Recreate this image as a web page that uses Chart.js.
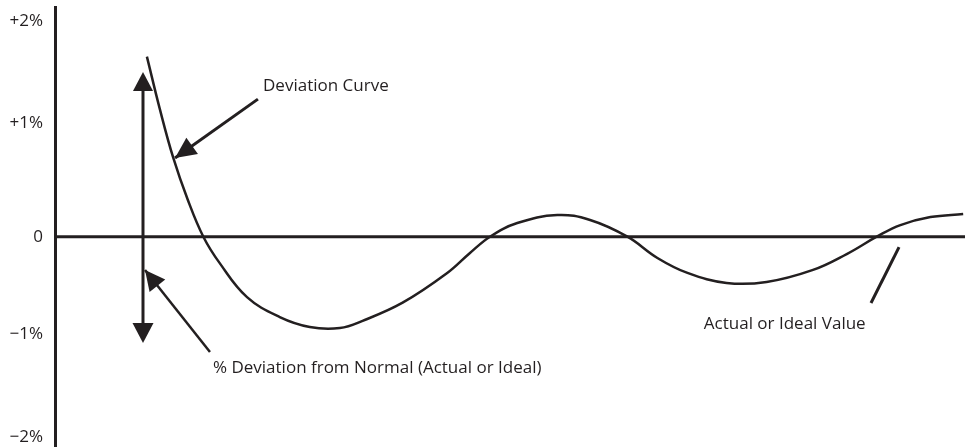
<!DOCTYPE html>
<html>
<head>
<meta charset="utf-8">
<script src="https://cdn.jsdelivr.net/npm/chart.js@4.4.1/dist/chart.umd.min.js"></script>
<style>
    html, body { margin: 0; padding: 0; background: #fff; }
    #wrap { width: 968px; height: 447px; }
</style>
</head>
<body>
<div id="wrap"><canvas id="deviationChart"></canvas></div>
<script>
// ========================================
// Deviation curve data
// ========================================

// time axis, arbitrary units 0..100
const curveTime = [10.1, 11.5, 13.0, 14.6, 16.3, 18.1, 21.1, 24.7, 28.0, 31.3, 33.8, 38.2, 43.1, 45.6, 47.8,
    50.8, 55.2, 58.8, 62.9, 66.2, 69.5, 73.8, 78.2, 83.3, 87.0, 90.3, 92.9, 96.2, 99.8];
// % deviation from normal
const curveDeviation = [1.67, 1.19, 0.73, 0.34, 0, -0.245, -0.56, -0.745, -0.837, -0.846, -0.78, -0.612, -0.337, -0.151, 0,
    0.127, 0.201, 0.155, 0, -0.197, -0.336, -0.429, -0.42, -0.308, -0.161, 0, 0.108, 0.182, 0.21];

// normal (actual or ideal) value line
const normalTime = [0, 100];
const normalValue = [0, 0];

// y tick labels, hand placed in the drawing (bottom to top)
const tickValues = [-1.86, -0.9, 0, 1.05, 2.0];
const tickLabels = ['\u22122%', '\u22121%', '0', '+1%', '+2%'];

const INK = '#231f20';
const FONT = '"Open Sans", "DejaVu Sans", sans-serif';

// ========================================
// Annotation plugin: arrows and labels
// ========================================
const annotations = {
    id: 'annotations',
    afterDatasetsDraw(chart) {
        const { ctx, scales: { x, y } } = chart;
        const px = (t, v) => [x.getPixelForValue(t), y.getPixelForValue(v)];

        const line = (a, b, w) => {
            ctx.beginPath();
            ctx.moveTo(a[0], a[1]);
            ctx.lineTo(b[0], b[1]);
            ctx.lineWidth = w;
            ctx.stroke();
        };

        // arrow head with tip at b, pointing from a
        const head = (a, b, len, half) => {
            const ang = Math.atan2(b[1] - a[1], b[0] - a[0]);
            ctx.save();
            ctx.translate(b[0], b[1]);
            ctx.rotate(ang);
            ctx.beginPath();
            ctx.moveTo(0, 0);
            ctx.lineTo(-len, -half);
            ctx.lineTo(-len, half);
            ctx.closePath();
            ctx.fill();
            ctx.restore();
        };

        ctx.save();
        ctx.strokeStyle = INK;
        ctx.fillStyle = INK;
        ctx.lineCap = 'butt';

        // vertical double arrow
        const vTop = px(9.67, 1.527);
        const vBot = px(9.67, -0.986);
        line([vTop[0], vTop[1] + 10], [vBot[0], vBot[1] - 10], 3);
        head(vBot, vTop, 19, 10);
        head(vTop, vBot, 20, 10.5);

        // "Deviation Curve" arrow
        const dTail = px(22.3, 1.276);
        const dTip = px(13.19, 0.73);
        line(dTail, dTip, 3);
        head(dTail, dTip, 21, 10);

        // "% Deviation" arrow
        const pTail = px(17.03, -1.069);
        const pTip = px(9.89, -0.309);
        line(pTail, pTip, 2.5);
        head(pTail, pTip, 20, 10);

        // "Actual or Ideal Value" pointer
        line(px(92.75, -0.096), px(89.67, -0.615), 3);

        // labels
        ctx.font = '17px ' + FONT;
        ctx.textBaseline = 'middle';
        ctx.textAlign = 'left';
        let p = px(22.86, 1.397);
        ctx.fillText('Deviation Curve', p[0], p[1]);
        p = px(17.36, -1.217);
        ctx.fillText('% Deviation from Normal (Actual or Ideal)', p[0], p[1]);
        p = px(71.3, -0.81);
        ctx.fillText('Actual or Ideal Value', p[0], p[1]);

        ctx.restore();
    }
};

const ctx = document.getElementById('deviationChart');

new Chart(ctx, {
    type: 'line',
    data: {
        datasets: [{
            label: 'Normal',
            data: normalTime.map((t, i) => ({ x: t, y: normalValue[i] })),
            borderColor: INK,
            borderWidth: 3,
            pointRadius: 0,
            fill: false
        }, {
            label: 'Deviation Curve',
            data: curveTime.map((t, i) => ({ x: t, y: curveDeviation[i] })),
            borderColor: INK,
            borderWidth: 2.5,
            pointRadius: 0,
            tension: 0.4,
            fill: false
        }]
    },
    options: {
        responsive: true,
        maintainAspectRatio: false,
        animation: false,
        layout: {
            padding: { left: 0, right: 3, top: 7, bottom: 0 }
        },
        plugins: {
            legend: { display: false },
            tooltip: { enabled: false }
        },
        scales: {
            x: {
                type: 'linear',
                min: 0,
                max: 100,
                display: false
            },
            y: {
                type: 'linear',
                min: -1.95,
                max: 2.13,
                afterBuildTicks: (scale) => {
                    scale.ticks = tickValues.map(v => ({ value: v }));
                },
                afterFit: (scale) => {
                    scale.width = 55;
                    scale.paddingTop = 0;
                    scale.paddingBottom = 0;
                },
                ticks: {
                    color: INK,
                    padding: 12,
                    font: { family: FONT, size: 17 },
                    callback: (value, index) => tickLabels[index]
                },
                grid: {
                    display: false,
                    drawTicks: false
                },
                border: {
                    display: true,
                    color: INK,
                    width: 3
                }
            }
        }
    },
    plugins: [annotations]
});
</script>
</body>
</html>
